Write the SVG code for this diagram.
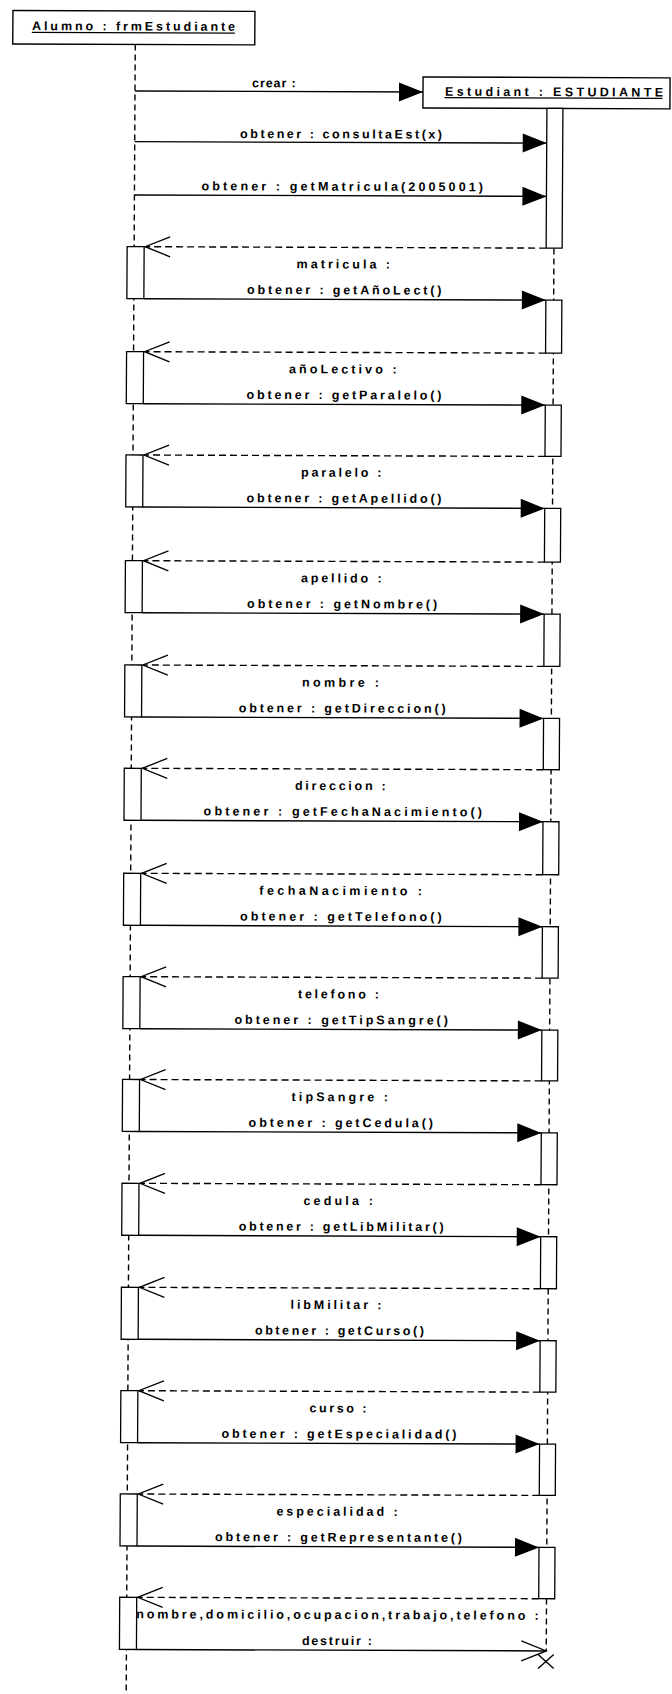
<svg xmlns="http://www.w3.org/2000/svg" width="672" height="1694" viewBox="0 0 672 1694">
<style>
.box{fill:#fff;stroke:#000;stroke-width:1.4}
.life{fill:none;stroke:#000;stroke-width:1.4;stroke-dasharray:6 4}
.act{fill:#fff;stroke:#000;stroke-width:1.3}
.msg{fill:none;stroke:#000;stroke-width:1.4;marker-end:url(#filled)}
.ret{fill:none;stroke:#000;stroke-width:1.4;stroke-dasharray:7 4;marker-end:url(#open)}
.des{fill:none;stroke:#000;stroke-width:1.4;marker-end:url(#open)}
.ul{stroke:#000;stroke-width:1.2}
.x{stroke:#000;stroke-width:1.4}
text{font-family:"Liberation Sans",Arial,sans-serif;font-size:12.5px;font-weight:bold;text-anchor:middle;fill:#000}
</style>
<defs>
<marker id="filled" markerUnits="userSpaceOnUse" markerWidth="24" markerHeight="19" refX="24" refY="9.5" orient="auto" overflow="visible">
<path d="M0,0 L24,9.5 L0,19 Z" fill="#000"/>
</marker>
<marker id="open" markerUnits="userSpaceOnUse" markerWidth="25" markerHeight="20" refX="25" refY="10" orient="auto" overflow="visible">
<path d="M0,0 L25,10 L0,20" fill="none" stroke="#000" stroke-width="1.3"/>
</marker>
</defs>
<rect x="0" y="0" width="672" height="1694" fill="#fff"/>
<g id="diagram" transform="matrix(1 0.0035 -0.0055 1 0 0)">
<g id="node-alumno">
<line class="life" x1="135.5" y1="44" x2="135.5" y2="1705"/>
<rect class="box" x="13" y="10.5" width="242" height="33.5"/>
<text x="133.7" y="30" textLength="203" lengthAdjust="spacing">Alumno : frmEstudiante</text>
<line class="ul" x1="32" y1="32.3" x2="235" y2="32.3"/>
<rect class="act" x="128.5" y="246.2" width="17" height="52"/>
<rect class="act" x="128.5" y="351.2" width="17" height="52"/>
<rect class="act" x="128.5" y="454.5" width="17" height="52"/>
<rect class="act" x="128.5" y="560.2" width="17" height="52"/>
<rect class="act" x="128.5" y="664.5" width="17" height="52"/>
<rect class="act" x="128.5" y="767.8" width="17" height="52"/>
<rect class="act" x="128.5" y="872.8" width="17" height="52"/>
<rect class="act" x="128.5" y="976.2" width="17" height="52"/>
<rect class="act" x="128.5" y="1079" width="17" height="52"/>
<rect class="act" x="128.5" y="1182.8" width="17" height="52"/>
<rect class="act" x="128.5" y="1286.8" width="17" height="52"/>
<rect class="act" x="128.5" y="1390.2" width="17" height="52"/>
<rect class="act" x="128.5" y="1493.5" width="17" height="52"/>
<rect class="act" x="128.5" y="1596.8" width="17" height="52.2"/>
</g>
<g id="node-estudiante">
<line class="life" x1="555.3" y1="106.5" x2="555.3" y2="1649"/>
<rect class="box" x="423.5" y="75.5" width="247" height="31"/>
<text x="554.5" y="94.2" textLength="218" lengthAdjust="spacing">Estudiant : ESTUDIANTE</text>
<line class="ul" x1="445" y1="96" x2="663" y2="96"/>
<rect class="act" x="547.5" y="106.5" width="16" height="139.7"/>
<rect class="act" x="547.5" y="298.2" width="16" height="53"/>
<rect class="act" x="547.5" y="403.2" width="16" height="51.3"/>
<rect class="act" x="547.5" y="506.5" width="16" height="53.7"/>
<rect class="act" x="547.5" y="612.2" width="16" height="52.3"/>
<rect class="act" x="547.5" y="716.5" width="16" height="51.3"/>
<rect class="act" x="547.5" y="819.8" width="16" height="53"/>
<rect class="act" x="547.5" y="924.8" width="16" height="51.4"/>
<rect class="act" x="547.5" y="1028.2" width="16" height="50.8"/>
<rect class="act" x="547.5" y="1131" width="16" height="51.8"/>
<rect class="act" x="547.5" y="1234.8" width="16" height="52"/>
<rect class="act" x="547.5" y="1338.8" width="16" height="51.4"/>
<rect class="act" x="547.5" y="1442.2" width="16" height="51.3"/>
<rect class="act" x="547.5" y="1545.5" width="16" height="51.3"/>
<line class="x" x1="547.2" y1="1652.5" x2="562.8" y2="1666.5"/>
<line class="x" x1="562.8" y1="1652.5" x2="547.2" y2="1666.5"/>
</g>
<g id="connectors">
<line class="msg" x1="135.5" y1="90.5" x2="423.5" y2="90.5"/>
<text x="274.4" y="86.3" textLength="43.7" lengthAdjust="spacing">crear :</text>
<line class="msg" x1="135.5" y1="141.2" x2="547.5" y2="141.2"/>
<text x="341.8" y="137.1" textLength="202" lengthAdjust="spacing">obtener : consultaEst(x)</text>
<line class="msg" x1="135.5" y1="194.5" x2="547.5" y2="194.5"/>
<text x="343.3" y="189.5" textLength="281.6" lengthAdjust="spacing">obtener : getMatricula(2005001)</text>

<line class="ret" x1="547.5" y1="246.2" x2="146.5" y2="246.2"/>
<text x="344.8" y="267.2" textLength="93.4" lengthAdjust="spacing">matricula :</text>
<line class="msg" x1="145.5" y1="298.2" x2="547.5" y2="298.2"/>
<text x="345.9" y="293" textLength="194.5" lengthAdjust="spacing">obtener : getAñoLect()</text>

<line class="ret" x1="547.5" y1="351.2" x2="146.5" y2="351.2"/>
<text x="344.9" y="372.2" textLength="107.5" lengthAdjust="spacing">añoLectivo :</text>
<line class="msg" x1="145.5" y1="403.2" x2="547.5" y2="403.2"/>
<text x="346.2" y="398" textLength="195" lengthAdjust="spacing">obtener : getParalelo()</text>

<line class="ret" x1="547.5" y1="454.5" x2="146.5" y2="454.5"/>
<text x="343.9" y="475.5" textLength="80.5" lengthAdjust="spacing">paralelo :</text>
<line class="msg" x1="145.5" y1="506.5" x2="547.5" y2="506.5"/>
<text x="346.8" y="501.3" textLength="195" lengthAdjust="spacing">obtener : getApellido()</text>

<line class="ret" x1="547.5" y1="560.2" x2="146.5" y2="560.2"/>
<text x="344.5" y="581.2" textLength="80.5" lengthAdjust="spacing">apellido :</text>
<line class="msg" x1="145.5" y1="612.2" x2="547.5" y2="612.2"/>
<text x="345.4" y="607" textLength="190" lengthAdjust="spacing">obtener : getNombre()</text>

<line class="ret" x1="547.5" y1="664.5" x2="146.5" y2="664.5"/>
<text x="344.3" y="685.5" textLength="77" lengthAdjust="spacing">nombre :</text>
<line class="msg" x1="145.5" y1="716.5" x2="547.5" y2="716.5"/>
<text x="346.1" y="711.3" textLength="207" lengthAdjust="spacing">obtener : getDireccion()</text>

<line class="ret" x1="547.5" y1="767.8" x2="146.5" y2="767.8"/>
<text x="344.7" y="788.8" textLength="90.8" lengthAdjust="spacing">direccion :</text>
<line class="msg" x1="145.5" y1="819.8" x2="547.5" y2="819.8"/>
<text x="347.3" y="814.6" textLength="278.4" lengthAdjust="spacing">obtener : getFechaNacimiento()</text>

<line class="ret" x1="547.5" y1="872.8" x2="146.5" y2="872.8"/>
<text x="345.6" y="893.8" textLength="162.7" lengthAdjust="spacing">fechaNacimiento :</text>
<line class="msg" x1="145.5" y1="924.8" x2="547.5" y2="924.8"/>
<text x="345.9" y="919.6" textLength="201.5" lengthAdjust="spacing">obtener : getTelefono()</text>

<line class="ret" x1="547.5" y1="976.2" x2="146.5" y2="976.2"/>
<text x="344" y="997.2" textLength="81" lengthAdjust="spacing">telefono :</text>
<line class="msg" x1="145.5" y1="1028.2" x2="547.5" y2="1028.2"/>
<text x="346.8" y="1023" textLength="213.5" lengthAdjust="spacing">obtener : getTipSangre()</text>

<line class="ret" x1="547.5" y1="1079" x2="146.5" y2="1079"/>
<text x="345.8" y="1100" textLength="96.5" lengthAdjust="spacing">tipSangre :</text>
<line class="msg" x1="145.5" y1="1131" x2="547.5" y2="1131"/>
<text x="347" y="1125.8" textLength="184.4" lengthAdjust="spacing">obtener : getCedula()</text>

<line class="ret" x1="547.5" y1="1182.8" x2="146.5" y2="1182.8"/>
<text x="344.8" y="1203.8" textLength="69.5" lengthAdjust="spacing">cedula :</text>
<line class="msg" x1="145.5" y1="1234.8" x2="547.5" y2="1234.8"/>
<text x="347.9" y="1229.6" textLength="204.9" lengthAdjust="spacing">obtener : getLibMilitar()</text>

<line class="ret" x1="547.5" y1="1286.8" x2="146.5" y2="1286.8"/>
<text x="343.2" y="1307.8" textLength="90.9" lengthAdjust="spacing">libMilitar :</text>
<line class="msg" x1="145.5" y1="1338.8" x2="547.5" y2="1338.8"/>
<text x="346.8" y="1333.6" textLength="169" lengthAdjust="spacing">obtener : getCurso()</text>

<line class="ret" x1="547.5" y1="1390.2" x2="146.5" y2="1390.2"/>
<text x="345.8" y="1411.2" textLength="57" lengthAdjust="spacing">curso :</text>
<line class="msg" x1="145.5" y1="1442.2" x2="547.5" y2="1442.2"/>
<text x="346.9" y="1437" textLength="234.9" lengthAdjust="spacing">obtener : getEspecialidad()</text>

<line class="ret" x1="547.5" y1="1493.5" x2="146.5" y2="1493.5"/>
<text x="345.4" y="1514.5" textLength="121.3" lengthAdjust="spacing">especialidad :</text>
<line class="msg" x1="145.5" y1="1545.5" x2="547.5" y2="1545.5"/>
<text x="347" y="1540.3" textLength="247" lengthAdjust="spacing">obtener : getRepresentante()</text>

<line class="ret" x1="547.5" y1="1596.8" x2="146.5" y2="1596.8"/>
<text x="346.4" y="1617.8" textLength="402.5" lengthAdjust="spacing">nombre,domicilio,ocupacion,trabajo,telefono :</text>
<line class="des" x1="145.5" y1="1649" x2="555.3" y2="1649"/>
<text x="346" y="1643.8" textLength="70" lengthAdjust="spacing">destruir :</text>
</g>
</g>
</svg>
